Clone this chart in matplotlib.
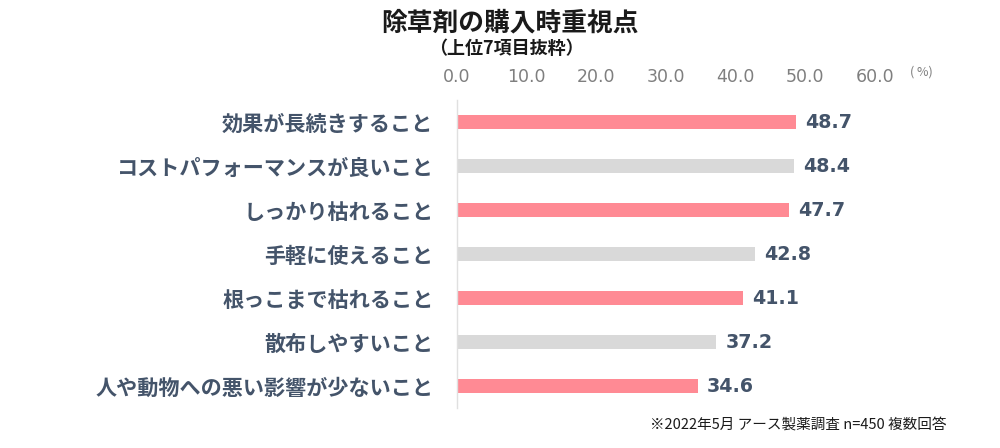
import matplotlib
matplotlib.use("Agg")
import matplotlib.pyplot as plt

plt.rcParams['font.family'] = ['Noto Sans CJK JP', 'DejaVu Sans']

categories = ["効果が長続きすること", "コストパフォーマンスが良いこと", "しっかり枯れること",
              "手軽に使えること", "根っこまで枯れること", "散布しやすいこと",
              "人や動物への悪い影響が少ないこと"]
values = [48.7, 48.4, 47.7, 42.8, 41.1, 37.2, 34.6]
bar_colors = ["#FF8A94", "#D9D9D9", "#FF8A94", "#D9D9D9", "#FF8A94", "#D9D9D9", "#FF8A94"]
xticks = [0, 10, 20, 30, 40, 50, 60]
title = "除草剤の購入時重視点"
subtitle = "（上位7項目抜粋）"
footnote = "※2022年5月 アース製薬調査 n=450 複数回答"

label_color = "#44546A"

fig = plt.figure(figsize=(10, 4.48), dpi=100)
ax = fig.add_axes([0.457, 1 - 408 / 448, 0.875 - 0.457, 308 / 448])

ypos = list(range(len(categories)))
ax.barh(ypos, values, height=0.34, color=bar_colors)
ax.set_ylim(len(categories) - 0.5, -0.5)
ax.set_xlim(0, 60)

for y, v in zip(ypos, values):
    ax.text(v + 1.3, y, f"{v:.1f}", va="center", ha="left", fontsize=13.7,
            fontweight="bold", color=label_color, family=['DejaVu Sans'])

ax.set_yticks(ypos)
ax.set_yticklabels(categories, fontsize=15.2, fontweight="bold", color=label_color)
ax.tick_params(axis="y", length=0, pad=17)

ax.xaxis.tick_top()
ax.set_xticks(xticks)
ax.set_xticklabels([f"{t:.1f}" for t in xticks], fontsize=12.5, color="#7F7F7F",
                   family=['DejaVu Sans'])
ax.tick_params(axis="x", length=0, pad=10)

for s in ["top", "right", "bottom"]:
    ax.spines[s].set_visible(False)
ax.spines["left"].set_color("#E0E0E0")
ax.spines["left"].set_linewidth(1)

fig.text(0.510, 1 - 23 / 448, title, ha="center", va="center", fontsize=18.5,
         fontweight="bold", color="#1A1A1A")
fig.text(0.506, 1 - 48 / 448, subtitle, ha="center", va="center", fontsize=13,
         fontweight="bold", color="#1A1A1A")
fig.text(0.910, 1 - 72 / 448, "( %)", ha="left", va="center", fontsize=9,
         color="#7F7F7F")
fig.text(0.946, 1 - 425 / 448, footnote, ha="right", va="center", fontsize=10.5,
         color="#1A1A1A")

fig.savefig("out.png", dpi=100, facecolor="white")
